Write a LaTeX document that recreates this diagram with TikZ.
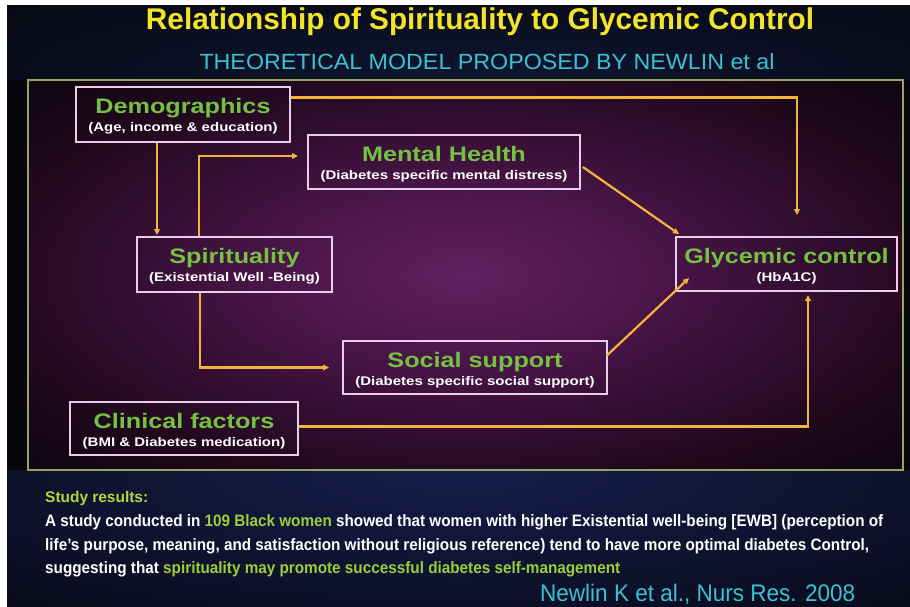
\documentclass[tikz,border=0pt]{standalone}
\usepackage{fontspec}
\setmainfont{Liberation Sans}
\usepackage{graphicx}
\usetikzlibrary{arrows.meta,calc}
\definecolor{bgdark}{HTML}{06060C}
\definecolor{topglow}{HTML}{0E1530}
\definecolor{botglow}{HTML}{151D4A}
\definecolor{pglowA}{HTML}{62205F}
\definecolor{pglowB}{HTML}{4A1549}
\definecolor{pglowC}{HTML}{22091F}
\definecolor{pglowD}{HTML}{070308}
\definecolor{frameg}{HTML}{95A45E}
\definecolor{boxpink}{HTML}{EACDEA}
\definecolor{tgreen}{HTML}{74C23F}
\definecolor{bgreen}{HTML}{9CCD3A}
\definecolor{sgreen}{HTML}{B5D33A}
\definecolor{tyellow}{HTML}{F2E42A}
\definecolor{tcyan}{HTML}{3CC0D2}
\definecolor{arrowc}{HTML}{F2B43D}
\pgfdeclareradialshading{purpleglow}{\pgfpoint{0bp}{0bp}}{color(0bp)=(pglowA); color(11bp)=(pglowB); color(26bp)=(pglowC); color(40bp)=(pglowD); color(50bp)=(pglowD)}
\newcommand\hs[1]{\scalebox{1.2}[1]{#1}}
\tikzset{
  box/.style={draw=boxpink, line width=1.8pt, inner sep=0pt},
  ttl/.style={text=tgreen, font=\fontsize{21}{21}\selectfont\bfseries, inner sep=0pt, anchor=base},
  subt/.style={text=white, font=\fontsize{12.5}{13}\selectfont\bfseries, inner sep=0pt, anchor=base},
  arr/.style={draw=arrowc, line width=2.2pt, -{Triangle[length=6pt,width=5.5pt]}},
  body/.style={text=white, font=\fontsize{16.5}{16.5}\selectfont\bfseries, inner sep=0pt, anchor=base west},
}
\begin{document}
\begin{tikzpicture}[x=1pt,y=-1pt]
\useasboundingbox (0,0) rectangle (910,607);
\fill[white] (0,0) rectangle (910,607);
\fill[bgdark] (7,6) rectangle (910,607);
% soft blue glows
\begin{scope}
  \clip (7,6) rectangle (910,80);
  \shade[inner color=topglow, outer color=bgdark] (480,75) ellipse (800 and 130);
\end{scope}
\begin{scope}
  \clip (7,470) rectangle (910,607);
  \shade[inner color=botglow, outer color=bgdark] (460,472) ellipse (900 and 230);
\end{scope}
% purple panel
\fill[shading=purpleglow] (28,80) rectangle (903,470);
\draw[frameg, line width=1.2pt] (28,80) rectangle (903,470);

% title
\node[text=tyellow, font=\fontsize{30}{30}\selectfont\bfseries, inner sep=0pt, anchor=base] (title) at (480,30)
  {\resizebox{668pt}{\height}{Relationship of Spirituality to Glycemic Control}};
\node[text=tcyan, font=\fontsize{22}{22}\selectfont, inner sep=0pt, anchor=base] (subtitle) at (487,70)
  {\resizebox{575pt}{\height}{THEORETICAL MODEL PROPOSED BY NEWLIN et al}};

% boxes
\node[box, minimum width=214pt, minimum height=55pt] (demo) at (183,114.5) {};
\node[ttl] (demoT) at ($(demo.north)+(0,27)$) {\hs{Demographics}};
\node[subt] (demoS) at ($(demo.north)+(0,45.5)$) {\hs{(Age, income \& education)}};

\node[box, minimum width=272pt, minimum height=54pt] (mental) at (444,162) {};
\node[ttl] (mentalT) at ($(mental.north)+(0,27)$) {\hs{Mental Health}};
\node[subt] (mentalS) at ($(mental.north)+(0,45.5)$) {\hs{(Diabetes specific mental distress)}};

\node[box, minimum width=195pt, minimum height=55pt] (spirit) at (234.5,264.5) {};
\node[ttl] (spiritT) at ($(spirit.north)+(0,27)$) {\hs{Spirituality}};
\node[subt] (spiritS) at ($(spirit.north)+(0,45.5)$) {\hs{(Existential Well -Being)}};

\node[box, minimum width=221pt, minimum height=54pt] (glyc) at (786.5,264) {};
\node[ttl] (glycT) at ($(glyc.north)+(0,27)$) {\hs{Glycemic control}};
\node[subt] (glycS) at ($(glyc.north)+(0,45.5)$) {\hs{(HbA1C)}};

\node[box, minimum width=264pt, minimum height=53pt] (social) at (475,367.5) {};
\node[ttl] (socialT) at ($(social.north)+(0,27)$) {\hs{Social support}};
\node[subt] (socialS) at ($(social.north)+(0,45)$) {\hs{(Diabetes specific social support)}};

\node[box, minimum width=228pt, minimum height=53pt] (clin) at (184,428.5) {};
\node[ttl] (clinT) at ($(clin.north)+(0,27)$) {\hs{Clinical factors}};
\node[subt] (clinS) at ($(clin.north)+(0,45)$) {\hs{(BMI \& Diabetes medication)}};

% connectors
\coordinate (d1) at ($(demo.east)+(0,-17)$);
\coordinate (g1) at ($(glyc.north)+(10.5,0)$);
\draw[arr, shorten >=21pt] (d1) -| (g1);

\coordinate (d2) at ($(demo.south)+(-26,0)$);
\draw[arr, shorten >=1pt] (d2) -- (d2 |- spirit.north);

\coordinate (s1) at ($(spirit.north)+(-35.5,0)$);
\coordinate (m1) at ($(mental.west)+(0,-6)$);
\draw[arr, shorten >=9pt] (s1) |- (m1);

\coordinate (s2) at ($(spirit.south)+(-34.5,0)$);
\draw[arr, shorten >=13pt] (s2) |- (social.west);

\coordinate (m2) at ($(mental.east)+(2,5)$);
\coordinate (g2) at ($(glyc.north west)+(4,-2)$);
\draw[arr] (m2) -- (g2);

\coordinate (so1) at ($(social.east)+(-1,-12)$);
\coordinate (g3) at ($(glyc.west)+(14,14)$);
\draw[arr] (so1) -- (g3);

\coordinate (c1) at ($(clin.east)+(0,-2)$);
\coordinate (g4) at ($(glyc.south)+(21.5,0)$);
\draw[arr, shorten >=3pt] (c1) -| (g4);

% bottom text
\node[body, text=sgreen, font=\fontsize{15.5}{15.5}\selectfont\bfseries] (study) at (45,502)
  {\resizebox{103pt}{\height}{Study results:}};
\node[body] (line1) at (45,526)
  {\resizebox{838pt}{\height}{A study conducted in \textcolor{bgreen}{109 Black women} showed that women with higher Existential well-being [EWB] (perception of}};
\node[body] (line2) at (45,550)
  {\resizebox{824pt}{\height}{life’s purpose, meaning, and satisfaction without religious reference) tend to have more optimal diabetes Control,}};
\node[body] (line3) at (45,573)
  {\resizebox{575pt}{\height}{suggesting that \textcolor{bgreen}{spirituality may promote successful diabetes self-management}}};
\node[text=tcyan, font=\fontsize{24}{24}\selectfont, inner sep=0pt, anchor=base west] (cite) at (540,601)
  {\resizebox{315pt}{\height}{Newlin K et al., Nurs Res. 2008}};
\end{tikzpicture}
\end{document}
